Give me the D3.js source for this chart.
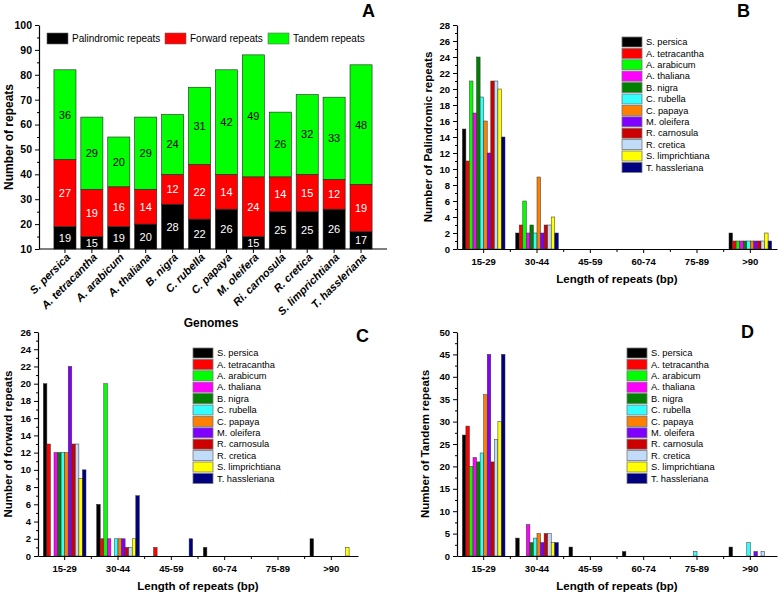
<!DOCTYPE html>
<html>
<head>
<meta charset="utf-8">
<script src="https://cdn.jsdelivr.net/npm/d3@7"></script>
<style>
  body { margin: 0; background: #fff; }
  svg text { font-family: "Liberation Sans", Arial, sans-serif; }
</style>
</head>
<body>
<svg id="fig" width="778" height="592"></svg>
<script>
// ---- data ----
const genomes = ["S. persica", "A. tetracantha", "A. arabicum", "A. thaliana", "B. nigra", "C. rubella",
    "C. papaya", "M. oleifera", "Ri. carnosula", "R. cretica", "S. limprichtiana", "T. hassleriana"];
const palindromic = [19, 15, 19, 20, 28, 22, 26, 15, 25, 25, 26, 17];
const forward = [27, 19, 16, 14, 12, 22, 14, 24, 14, 15, 12, 19];
const tandem = [36, 29, 20, 29, 24, 31, 42, 49, 26, 32, 33, 48];
const repeatTypes = ["Palindromic repeats", "Forward repeats", "Tandem repeats"];

const species = ["S. persica", "A. tetracantha", "A. arabicum", "A. thaliana", "B. nigra", "C. rubella",
    "C. papaya", "M. oleifera", "R. carnosula", "R. cretica", "S. limprichtiana", "T. hassleriana"];
const speciesColors = ["#000000", "#ff0000", "#00ff00", "#ff00ff", "#008000", "#33ffff",
    "#ff8000", "#8000ff", "#cc0000", "#c0dcf8", "#ffff00", "#000080"];
const lengthBins = ["15-29", "30-44", "45-59", "60-74", "75-89", ">90"];

// one row per length bin, values in species order
const palindromicByLength = [
    [15, 11, 21, 17, 24, 19, 16, 12, 21, 21, 20, 14],
    [2, 3, 6, 2, 3, 2, 9, 2, 3, 3, 4, 2],
    [0, 0, 0, 0, 0, 0, 0, 0, 0, 0, 0, 0],
    [0, 0, 0, 0, 0, 0, 0, 0, 0, 0, 0, 0],
    [0, 0, 0, 0, 0, 0, 0, 0, 0, 0, 0, 0],
    [2, 1, 1, 1, 1, 1, 1, 1, 1, 1, 2, 1]
];
const forwardByLength = [
    [20, 13, 0, 12, 12, 12, 12, 22, 13, 13, 9, 10],
    [6, 2, 20, 2, 0, 2, 2, 2, 1, 1, 2, 7],
    [0, 1, 0, 0, 0, 0, 0, 0, 0, 0, 0, 2],
    [1, 0, 0, 0, 0, 0, 0, 0, 0, 0, 0, 0],
    [0, 0, 0, 0, 0, 0, 0, 0, 0, 0, 0, 0],
    [2, 0, 0, 0, 0, 0, 0, 0, 0, 0, 1, 0]
];
const tandemByLength = [
    [27, 29, 20, 22, 21, 23, 36, 45, 21, 26, 30, 45],
    [4, 0, 0, 7, 3, 4, 5, 3, 5, 5, 3, 3],
    [2, 0, 0, 0, 0, 0, 0, 0, 0, 0, 0, 0],
    [1, 0, 0, 0, 0, 0, 0, 0, 0, 0, 0, 0],
    [0, 0, 0, 0, 0, 1, 0, 0, 0, 0, 0, 0],
    [2, 0, 0, 0, 0, 3, 0, 1, 0, 1, 0, 0]
];

const svg = d3.select("#fig");

// ---- panel A: stacked bars ----
function drawPanelA() {
    const left = 39, right = 387, top = 25, bottom = 249;
    const g = svg.append("g");

    const x = d3.scaleBand().domain(genomes).range([51.5, 374.5]).paddingInner(0.18).paddingOuter(0.09);
    const y = d3.scaleLinear().domain([10, 100]).range([bottom, top]);

    const rows = genomes.map((name, i) => ({
        name, "Palindromic repeats": palindromic[i], "Forward repeats": forward[i], "Tandem repeats": tandem[i]
    }));
    const stacked = d3.stack().keys(repeatTypes)(rows);
    const fills = ["#000000", "#ff0000", "#00ff00"];
    const textFill = ["#fff", "#fff", "#000"];

    stacked.forEach((layer, li) => {
        g.selectAll(null).data(layer).enter().append("rect")
            .attr("x", d => x(d.data.name))
            .attr("y", d => y(d[1]))
            .attr("width", x.bandwidth())
            .attr("height", d => y(Math.max(d[0], 10)) - y(d[1]))
            .attr("fill", fills[li])
            .attr("stroke", "#222")
            .attr("stroke-width", 0.6);

        g.selectAll(null).data(layer).enter().append("text")
            .attr("x", d => x(d.data.name) + x.bandwidth() / 2)
            .attr("y", d => y((Math.max(d[0], 10) + d[1]) / 2))
            .attr("dy", "0.36em")
            .attr("text-anchor", "middle")
            .attr("font-size", "11px")
            .attr("fill", textFill[li])
            .text(d => d[1] - d[0]);
    });

    // axes
    const yAxis = d3.axisLeft(y).tickValues(d3.range(10, 101, 10)).tickSize(4).tickSizeOuter(0);
    g.append("g").attr("transform", `translate(${left},0)`).call(yAxis)
        .call(a => a.selectAll("text").attr("font-size", "10.5px").attr("font-weight", "bold").attr("fill", "#000"))
        .call(a => a.select(".domain").attr("stroke-width", 1.2));
    g.append("g").attr("transform", `translate(${left},0)`)
        .call(d3.axisLeft(y).tickValues(d3.range(15, 100, 10)).tickSize(2).tickFormat(""))
        .call(a => a.select(".domain").remove());

    g.append("line").attr("x1", left).attr("x2", right).attr("y1", bottom).attr("y2", bottom)
        .attr("stroke", "#000").attr("stroke-width", 1.2);
    g.selectAll(null).data(genomes).enter().append("line")
        .attr("x1", d => x(d) + x.bandwidth() / 2).attr("x2", d => x(d) + x.bandwidth() / 2)
        .attr("y1", bottom).attr("y2", bottom + 4).attr("stroke", "#000");

    g.selectAll(null).data(genomes).enter().append("text")
        .attr("transform", d => `translate(${x(d) + x.bandwidth() / 2 + 6},${bottom + 9}) rotate(-45)`)
        .attr("text-anchor", "end")
        .attr("font-size", "11px")
        .attr("font-weight", "bold")
        .attr("font-style", "italic")
        .text(d => d);

    g.append("text").attr("x", 211).attr("y", 327).attr("text-anchor", "middle")
        .attr("font-size", "12px").attr("font-weight", "bold").text("Genomes");
    g.append("text").attr("transform", `translate(13,${(top + bottom) / 2}) rotate(-90)`)
        .attr("text-anchor", "middle").attr("font-size", "12px").attr("font-weight", "bold")
        .text("Number of repeats");

    // legend
    const legendX = [47, 165, 268];
    repeatTypes.forEach((t, i) => {
        g.append("rect").attr("x", legendX[i]).attr("y", 33).attr("width", 21).attr("height", 11)
            .attr("fill", fills[i]).attr("stroke", "#666").attr("stroke-width", 0.6);
        g.append("text").attr("x", legendX[i] + 25).attr("y", 42).attr("font-size", "10px").text(t);
    });

    g.append("text").attr("x", 362).attr("y", 17).attr("font-size", "18px").attr("font-weight", "bold").text("A");
}

// ---- panels B, C, D: grouped bars by repeat length ----
function drawLengthPanel(cfg) {
    const g = svg.append("g");
    const x0 = d3.scaleBand().domain(lengthBins).range([cfg.left, cfg.right]);
    const x1 = d3.scaleBand().domain(species).range([x0.bandwidth() * 0.1, x0.bandwidth() * 0.9]);
    const y = d3.scaleLinear().domain([0, cfg.yMax]).range([cfg.bottom, cfg.top]);

    const bars = [];
    cfg.values.forEach((row, bi) => row.forEach((v, si) => {
        if (v > 0) bars.push({ bin: lengthBins[bi], sp: species[si], color: speciesColors[si], v });
    }));

    g.selectAll(null).data(bars).enter().append("rect")
        .attr("x", d => x0(d.bin) + x1(d.sp))
        .attr("y", d => y(d.v))
        .attr("width", x1.bandwidth())
        .attr("height", d => cfg.bottom - y(d.v))
        .attr("fill", d => d.color)
        .attr("stroke", "#333")
        .attr("stroke-width", 0.5);

    // y axis
    g.append("g").attr("transform", `translate(${cfg.left},0)`)
        .call(d3.axisLeft(y).tickValues(d3.range(0, cfg.yMax + 1, cfg.yStep)).tickSize(4).tickSizeOuter(0))
        .call(a => a.selectAll("text").attr("font-size", "9.5px").attr("font-weight", "bold").attr("fill", "#000"))
        .call(a => a.select(".domain").attr("stroke-width", 1.2));
    g.append("g").attr("transform", `translate(${cfg.left},0)`)
        .call(d3.axisLeft(y).tickValues(d3.range(cfg.yStep / 2, cfg.yMax, cfg.yStep)).tickSize(2).tickFormat(""))
        .call(a => a.select(".domain").remove());

    // x axis
    g.append("g").attr("transform", `translate(0,${cfg.bottom})`)
        .call(d3.axisBottom(x0).tickSize(4).tickSizeOuter(0).tickPadding(5))
        .call(a => a.selectAll("text").attr("font-size", "9.5px").attr("font-weight", "bold").attr("fill", "#000"))
        .call(a => a.select(".domain").attr("stroke-width", 1.2));
    g.selectAll(null).data(lengthBins.slice(1)).enter().append("line")
        .attr("x1", d => x0(d)).attr("x2", d => x0(d))
        .attr("y1", cfg.bottom).attr("y2", cfg.bottom + 3).attr("stroke", "#000");

    g.append("text").attr("x", (cfg.left + cfg.right) / 2).attr("y", cfg.bottom + 34)
        .attr("text-anchor", "middle").attr("font-size", "11.5px").attr("font-weight", "bold")
        .text("Length of repeats (bp)");
    g.append("text").attr("transform", `translate(${cfg.yLabelX},${(cfg.top + cfg.bottom) / 2}) rotate(-90)`)
        .attr("text-anchor", "middle").attr("font-size", "11.5px").attr("font-weight", "bold")
        .text(cfg.yLabel);

    // legend
    species.forEach((s, i) => {
        const cy = cfg.legendY + i * 11.4;
        g.append("rect").attr("x", cfg.legendX).attr("y", cy - 5).attr("width", 20).attr("height", 10)
            .attr("fill", speciesColors[i]).attr("stroke", "#777").attr("stroke-width", 0.8);
        g.append("text").attr("x", cfg.legendX + 24).attr("y", cy).attr("dy", "0.35em")
            .attr("font-size", "9.3px").text(s);
    });

    g.append("text").attr("x", cfg.letterX).attr("y", cfg.letterY)
        .attr("font-size", "18px").attr("font-weight", "bold").text(cfg.letter);
}

drawPanelA();
drawLengthPanel({
    values: palindromicByLength, left: 457, right: 777, top: 25, bottom: 249, yMax: 28, yStep: 2,
    yLabel: "Number of Palindromic repeats", yLabelX: 432, legendX: 622, legendY: 42,
    letter: "B", letterX: 737, letterY: 17
});
drawLengthPanel({
    values: forwardByLength, left: 38, right: 358, top: 332, bottom: 556, yMax: 26, yStep: 2,
    yLabel: "Number of forward repeats", yLabelX: 12, legendX: 193, legendY: 353,
    letter: "C", letterX: 356, letterY: 342
});
drawLengthPanel({
    values: tandemByLength, left: 457, right: 777, top: 332, bottom: 556, yMax: 50, yStep: 5,
    yLabel: "Number of Tandem repeats", yLabelX: 429, legendX: 627, legendY: 353,
    letter: "D", letterX: 741, letterY: 338
});
</script>
</body>
</html>
